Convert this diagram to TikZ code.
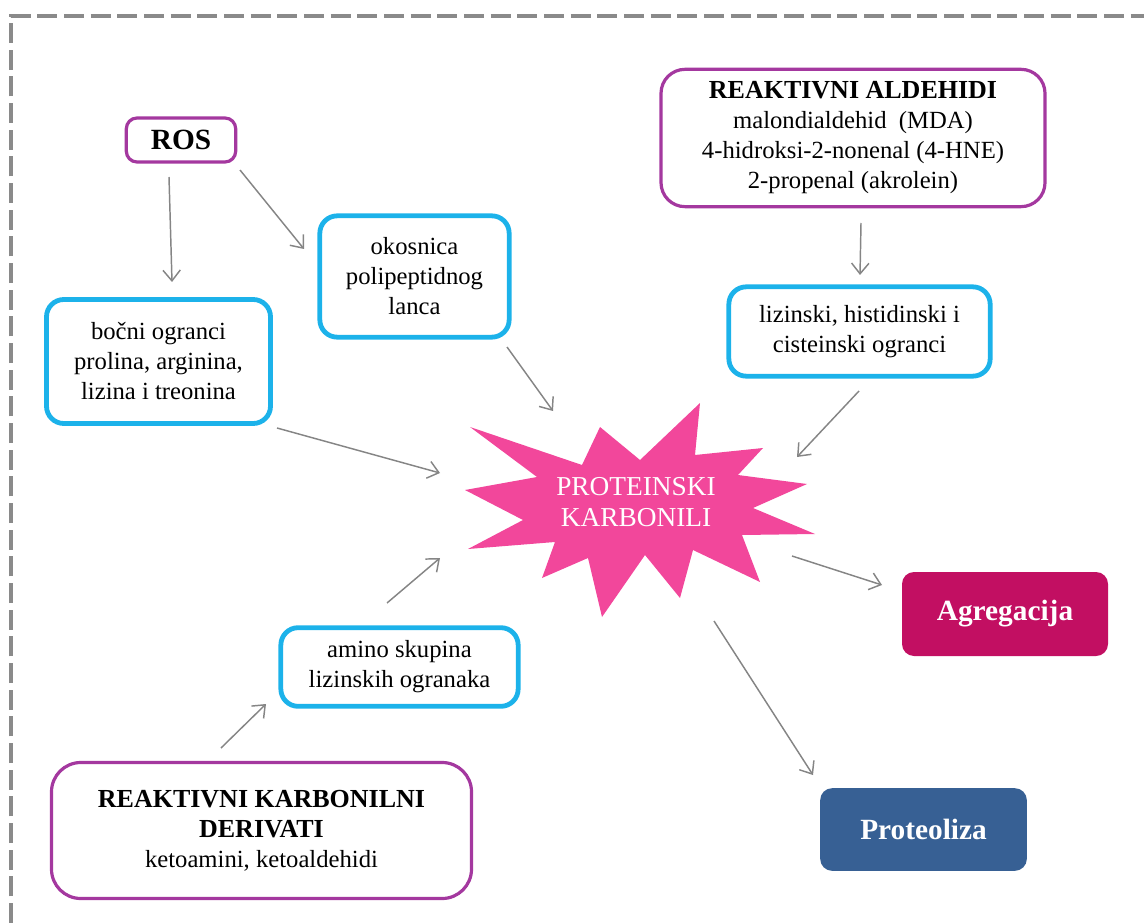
\documentclass[tikz,border=0pt]{standalone}
\usepackage{fontspec}
\setmainfont{Liberation Serif}
\usetikzlibrary{arrows.meta,calc}
\definecolor{purp}{HTML}{A4389F}
\definecolor{cyanb}{HTML}{1CB2EA}
\definecolor{magf}{HTML}{C20F62}
\definecolor{bluef}{HTML}{376094}
\definecolor{pinkf}{HTML}{F2479B}
\definecolor{arrg}{HTML}{858585}
\definecolor{bordg}{HTML}{8A8A8A}
\newcommand{\hdfont}{\bfseries\fontsize{19.5pt}{23pt}\selectfont}
\tikzset{
  txt/.style={font=\fontsize{18.5pt}{22.5pt}\selectfont, align=center, text=black, inner sep=0pt},
  purpbox/.style={txt, draw=purp, line width=2.4pt, rounded corners=14pt, fill=white},
  cyanbox/.style={txt, draw=cyanb, line width=3.6pt, rounded corners=13pt, fill=white},
  outbox/.style={font=\fontsize{22pt}{26pt}\selectfont\bfseries, text=white, rounded corners=9pt, inner sep=0pt},
  arr/.style={draw=arrg, line width=1.1pt, -{Straight Barb[length=8pt,width=13pt]}},
}
\begin{document}
\begin{tikzpicture}[x=0.75pt,y=-0.75pt]
\useasboundingbox (0,0) rectangle (1144,923);
% dashed frame
\draw[bordg, line width=2.6pt, dash pattern=on 15pt off 5pt] (11,923) -- (11,16) -- (1144,16);

% boxes
\node[purpbox, rounded corners=8pt, minimum width=82pt, minimum height=33pt, font=\fontsize{22pt}{26pt}\selectfont\bfseries] (ros) at (181,140) {ROS};
\node[purpbox, rounded corners=18pt, minimum width=288pt, minimum height=103pt] (ald) at (853,138)
  {{\hdfont REAKTIVNI ALDEHIDI}\\malondialdehid~~(MDA)\\4-hidroksi-2-nonenal (4-HNE)\\2-propenal (akrolein)};
\node[cyanbox, minimum width=142pt, minimum height=91pt] (oko) at (414.5,276.5) {okosnica\\polipeptidnog\\lanca};
\node[cyanbox, minimum width=168pt, minimum height=93pt] (boc) at (158.5,361.5) {bočni ogranci\\prolina, arginina,\\lizina i treonina};
\node[cyanbox, minimum width=196pt, minimum height=67pt] (liz) at (859.5,331.5) {lizinski, histidinski i\\cisteinski ogranci};
\node[cyanbox, minimum width=178pt, minimum height=59pt] (ami) at (399.5,667) {amino skupina\\lizinskih ogranaka};
\node[purpbox, rounded corners=22pt, minimum width=315pt, minimum height=102pt] (kar) at (261.5,830.5)
  {{\hdfont REAKTIVNI KARBONILNI}\\{\hdfont DERIVATI}\\ketoamini, ketoaldehidi};
\node[outbox, fill=magf, minimum width=154.5pt, minimum height=63pt] (agr) at (1005,614) {Agregacija};
\node[outbox, fill=bluef, minimum width=155pt, minimum height=62pt] (pro) at (923.5,829.5) {Proteoliza};

% star
\fill[pinkf] (700,403) -- (695,455) -- (763,448) -- (738,475) -- (807,484) -- (753,508)
  -- (815,534) -- (742,535) -- (760,582) -- (693,550) -- (680,598) -- (645,555)
  -- (602,617) -- (588,558) -- (542,578) -- (555,542) -- (468,549) -- (523,520)
  -- (465,490) -- (537,477) -- (470,427) -- (582,465) -- (600,427) -- (640,460) -- cycle;
\node[font=\fontsize{20.5pt}{23pt}\selectfont, text=white, align=center, inner sep=0pt] (star) at (636,502) {PROTEINSKI\\KARBONILI};

% connector end points
\coordinate (a1s) at (169,177);  \coordinate (a1e) at (172,282);
\coordinate (a2s) at (240,170);  \coordinate (a2e) at (304,249);
\coordinate (a3s) at (507,347);  \coordinate (a3e) at (553,411);
\coordinate (a4s) at (277,428);  \coordinate (a4e) at (440,473);
\coordinate (a5s) at (861,223);  \coordinate (a5e) at (860,275);
\coordinate (a6s) at (859,391);  \coordinate (a6e) at (797,457);
\coordinate (a7s) at (387,603);  \coordinate (a7e) at (440,558);
\coordinate (a8s) at (221,748);  \coordinate (a8e) at (266,704);
\coordinate (a9s) at (792,556);  \coordinate (a9e) at (882,585);
\coordinate (a10s) at (714,621); \coordinate (a10e) at (813,775);

\draw[arr] (a1s) -- (a1e);
\draw[arr] (a2s) -- (a2e);
\draw[arr] (a3s) -- (a3e);
\draw[arr] (a4s) -- (a4e);
\draw[arr] (a5s) -- (a5e);
\draw[arr] (a6s) -- (a6e);
\draw[arr] (a7s) -- (a7e);
\draw[arr] (a8s) -- (a8e);
\draw[arr] (a9s) -- (a9e);
\draw[arr] (a10s) -- (a10e);
\end{tikzpicture}
\end{document}
